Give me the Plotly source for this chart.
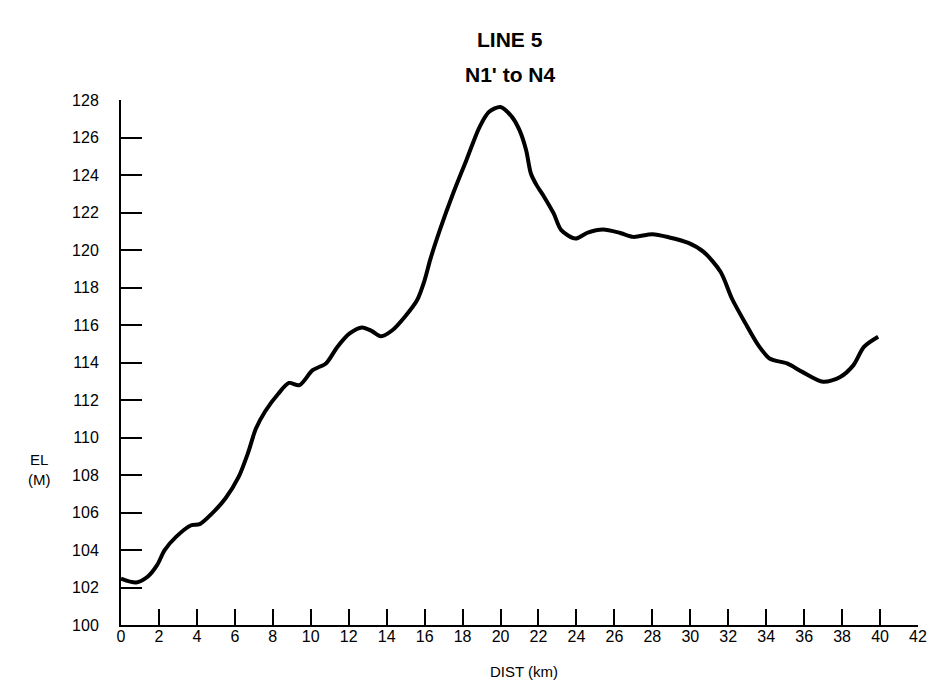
import plotly.graph_objects as go

dist_km = [0, 0.8, 1.4, 1.9, 2.3, 2.9, 3.7, 4.15, 4.8, 5.5, 6.2, 6.7, 7.1, 7.6, 8.3, 8.85,
           9.4, 10.1, 10.8, 11.4, 12.05, 12.7, 13.2, 13.7, 14.3, 14.95, 15.6, 16.0, 16.3,
           16.8, 17.5, 18.2, 18.9, 19.4, 20.0, 20.6, 21.0, 21.35, 21.6, 21.9, 22.3, 22.8,
           23.2, 23.95, 24.6, 25.4, 26.3, 27.0, 28.0, 28.9, 29.9, 30.7, 31.6, 32.2, 32.9,
           33.6, 34.2, 35.1, 35.9, 37.0, 37.9, 38.6, 39.15, 39.9]
elev_m = [102.48, 102.27, 102.57, 103.19, 103.99, 104.7, 105.32, 105.38, 105.95, 106.75,
          107.9, 109.2, 110.45, 111.4, 112.35, 112.91, 112.79, 113.59, 113.95, 114.83,
          115.55, 115.87, 115.69, 115.4, 115.72, 116.43, 117.32, 118.39, 119.5, 121.06,
          123.01, 124.79, 126.57, 127.37, 127.63, 127.1, 126.39, 125.32, 124.08, 123.46,
          122.83, 121.95, 121.06, 120.61, 120.93, 121.09, 120.91, 120.7, 120.84, 120.67,
          120.38, 119.9, 118.83, 117.4, 116.1, 114.9, 114.2, 113.95, 113.5, 112.97,
          113.23, 113.86, 114.83, 115.37]

x_ticks = list(range(0, 43, 2))
y_ticks = list(range(100, 129, 2))

FONT = "Liberation Sans, Arial, sans-serif"

W, H = 929, 692
L, T = 121, 100
R = W - 918
B = H - 625
plot_w = W - L - R
plot_h = H - T - B

def px_to_paper(px, py):
    return (px - L) / plot_w, (H - B - py) / plot_h

fig = go.Figure()
fig.add_trace(go.Scatter(x=dist_km, y=elev_m, mode="lines",
                         line=dict(color="black", width=4, shape="spline", smoothing=0.8),
                         hoverinfo="skip", showlegend=False))

ann = []
tx, ty = px_to_paper(510, 40)
ann.append(dict(text="<b>LINE 5</b>", x=tx, y=ty, xref="paper", yref="paper",
                showarrow=False, font=dict(size=21, family=FONT), yanchor="middle"))
tx, ty = px_to_paper(510, 75)
ann.append(dict(text="<b>N1' to N4</b>", x=tx, y=ty, xref="paper", yref="paper",
                showarrow=False, font=dict(size=21, family=FONT), yanchor="middle"))
tx, ty = px_to_paper(26, 470)
ann.append(dict(text="EL<br>(M)", x=tx, y=ty, xref="paper", yref="paper",
                showarrow=False, font=dict(size=15, family=FONT), yanchor="middle",
                align="center"))
tx, ty = px_to_paper(524, 671)
ann.append(dict(text="DIST (km)", x=tx, y=ty, xref="paper", yref="paper",
                showarrow=False, font=dict(size=15, family=FONT), yanchor="middle"))

fig.update_layout(
    width=W, height=H,
    margin=dict(l=L, r=R, t=T, b=B, autoexpand=False),
    paper_bgcolor="white", plot_bgcolor="white",
    font=dict(family=FONT, size=16, color="black"),
    xaxis=dict(range=[0, 42], tickvals=x_ticks, ticktext=[str(v) for v in x_ticks],
               ticks="inside", ticklen=16, tickwidth=2, tickcolor="black",
               showline=True, linecolor="black", linewidth=2, showgrid=False,
               zeroline=False, ticklabelstandoff=-4, automargin=False,
               ticklabeloverflow="allow"),
    yaxis=dict(range=[100, 128], tickvals=y_ticks, ticktext=[str(v) for v in y_ticks],
               ticks="inside", ticklen=21, tickwidth=2, tickcolor="black",
               showline=True, linecolor="black", linewidth=2, showgrid=False,
               zeroline=False, ticklabelstandoff=17, automargin=False),
    annotations=ann,
)

fig.write_html("out.html",
               config={"displayModeBar": False, "staticPlot": True},
               post_script="document.body.style.margin='0';document.body.style.overflow='hidden';")
